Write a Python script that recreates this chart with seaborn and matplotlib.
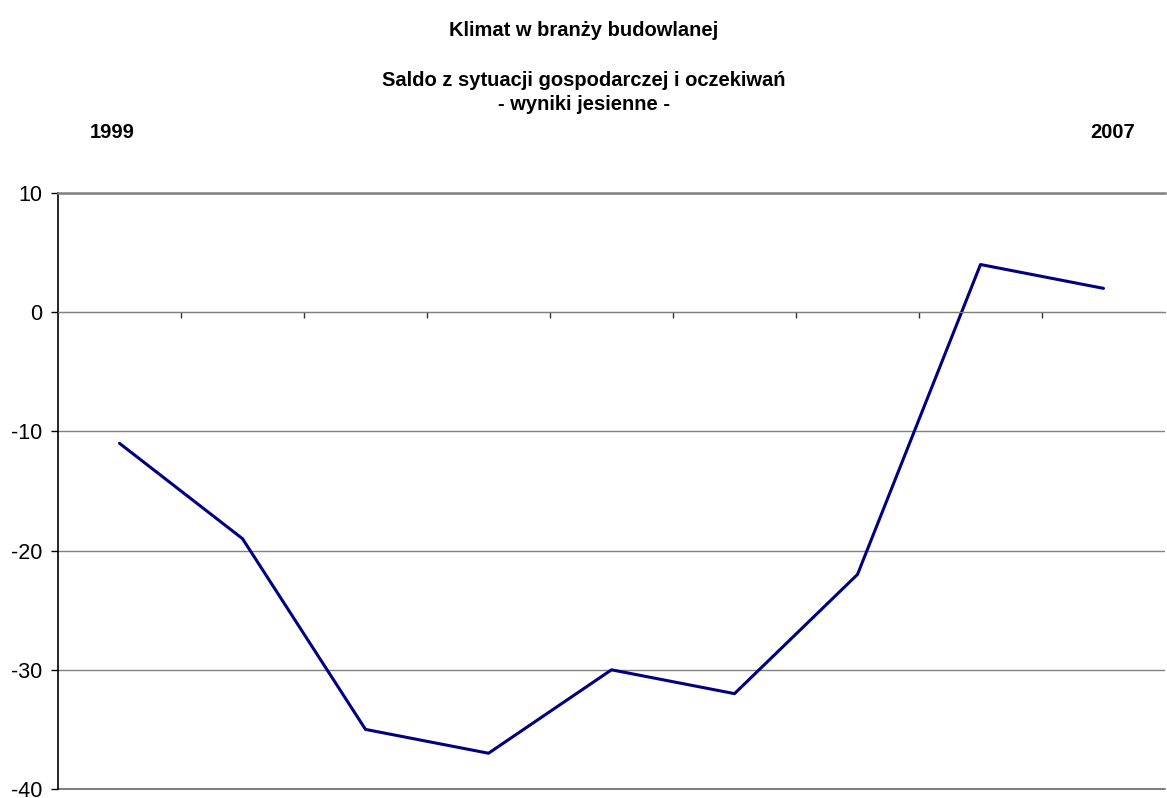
import matplotlib
matplotlib.use('Agg')
import matplotlib.pyplot as plt
import pandas as pd
import seaborn as sns

# Data
years = ['1999', '2000', '2001', '2002', '2003', '2004', '2005', '2006', '2007']
saldo = [-11, -19, -35, -37, -30, -32, -22, 4, 2]
y_ticks = [-40, -30, -20, -10, 0, 10]

sns.set_style('white')
plt.rcParams['font.family'] = ['Liberation Sans', 'DejaVu Sans']
plt.rcParams['text.color'] = 'black'
plt.rcParams['ytick.color'] = 'black'
plt.rcParams['xtick.color'] = 'black'

df = pd.DataFrame({'pos': range(len(years)), 'Saldo': saldo})

fig = plt.figure(figsize=(11.67, 7.98), dpi=100)
ax = fig.add_axes([58 / 1167, 9 / 798, 1107 / 1167, 596 / 798])

sns.lineplot(data=df, x='pos', y='Saldo', color='#000080', linewidth=2.2, ax=ax)

ax.set_xlim(-0.5, len(years) - 0.5)
ax.set_ylim(y_ticks[0], y_ticks[-1])
ax.set_yticks(y_ticks)
ax.set_yticklabels([str(t) for t in y_ticks], fontsize=15.5)
ax.set_xlabel('')
ax.set_ylabel('')

# category separators as tick marks on the zero line
ax.set_xticks([i + 0.5 for i in range(len(years) - 1)])
ax.set_xticklabels([])
ax.tick_params(axis='x', direction='out', length=4, width=1, color='#333333', bottom=True)
ax.tick_params(axis='y', direction='out', length=5, width=1, color='black', left=True, pad=6)

ax.yaxis.grid(True, color='#808080', linewidth=1.0)
ax.xaxis.grid(False)
ax.axhline(y_ticks[0], color='#808080', linewidth=1.5, clip_on=False, zorder=0.5)
ax.spines['bottom'].set_position(('data', 0))
ax.spines['bottom'].set_color('#808080')
ax.spines['left'].set_color('black')
ax.spines['left'].set_linewidth(1.2)
ax.spines['top'].set_visible(True)
ax.spines['top'].set_color('#808080')
ax.spines['top'].set_linewidth(1.8)
ax.spines['right'].set_visible(False)
ax.set_axisbelow(True)

title_kw = dict(ha='center', va='center', fontsize=14.5, fontweight='bold')
fig.text(0.5, 1 - 30 / 798, 'Klimat w branży budowlanej', **title_kw)
fig.text(0.5, 1 - 81 / 798, 'Saldo z sytuacji gospodarczej i oczekiwań', **title_kw)
fig.text(0.5, 1 - 104 / 798, '- wyniki jesienne -', **title_kw)
fig.text(112 / 1167, 1 - 133 / 798, years[0], **title_kw)
fig.text(1113 / 1167, 1 - 133 / 798, years[-1], **title_kw)

fig.savefig('out.png', dpi=100)
plt.close()
